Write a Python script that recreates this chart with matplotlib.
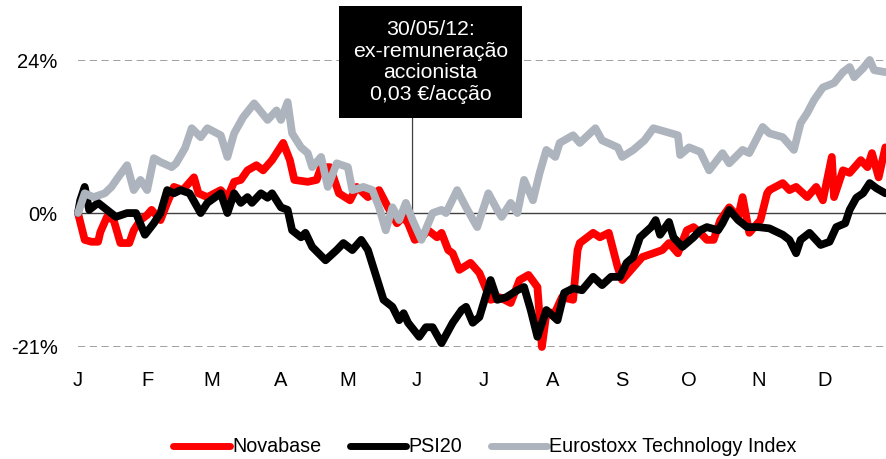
import matplotlib
matplotlib.use("Agg")
import matplotlib.pyplot as plt
from matplotlib.patches import Rectangle
from matplotlib.lines import Line2D

plt.rcParams['font.family'] = ['Liberation Sans', 'DejaVu Sans']

# ---- data (day of year 2012, % change) ----
month_labels = ["J", "F", "M", "A", "M", "J", "J", "A", "S", "O", "N", "D"]
month_starts = [0, 31, 60, 91, 121, 152, 182, 213, 244, 274, 305, 335]
y_ticks = [-21, 0, 24]
y_labels = ["-21%", "0%", "24%"]

nova_day = [0, 3, 6, 9, 10, 13, 16, 19, 23, 25, 28, 31, 33, 37, 40, 43, 47, 52, 54, 58,
            64, 67, 70, 73, 76, 80, 83, 87, 92, 95, 97, 103, 107, 109, 113, 117, 122, 125,
            130, 135, 139, 143, 146, 148, 151, 154, 157, 161, 163, 166, 168, 171, 176, 180,
            185, 189, 194, 198, 202, 206, 208, 210, 214, 217, 222, 224, 225, 231, 234, 238,
            240, 242, 244, 249, 253, 258, 262, 265, 269, 273, 276, 279, 282, 285, 288, 292,
            296, 298, 301, 306, 309, 310, 316, 319, 322, 327, 331, 334, 338, 339, 343, 346,
            351, 354, 356, 359, 362]
nova_val = [0.0, -4.2, -4.5, -4.5, -3.0, -0.6, -1.1, -4.7, -4.7, -2.7, -1.1, -0.3, 0.5, -1.1,
            1.6, 4.1, 3.6, 5.6, 3.1, 2.5, 3.6, 2.4, 4.9, 5.2, 6.7, 7.5, 6.7, 8.3, 11.0, 8.3,
            5.2, 4.9, 5.2, 7.2, 7.2, 3.1, 2.0, 4.1, 2.5, 3.6, 0.9, -1.6, -0.6, -1.6, -4.2,
            -3.8, -2.7, -3.8, -3.1, -5.8, -6.3, -8.9, -7.8, -9.4, -13.6, -13.2, -14.1, -10.5,
            -9.7, -11.6, -21.0, -15.8, -15.5, -13.2, -13.6, -5.8, -4.7, -3.1, -3.8, -3.1,
            -5.8, -8.5, -10.5, -8.5, -6.9, -6.3, -5.8, -4.7, -6.3, -2.7, -2.2, -3.1, -4.2,
            -4.2, -1.1, 0.9, -0.6, 2.5, -3.1, -1.1, 3.1, 3.6, 4.7, 3.6, 4.1, 2.5, 4.1, 2.0,
            8.8, 2.5, 6.7, 6.3, 8.3, 7.2, 9.4, 5.6, 10.3]

psi_day = [0, 1, 3, 5, 9, 13, 17, 22, 26, 30, 34, 37, 40, 43, 46, 50, 55, 58, 64, 67, 70,
           73, 76, 78, 82, 85, 87, 91, 94, 96, 100, 102, 105, 111, 116, 119, 123, 127, 130,
           137, 141, 144, 146, 148, 153, 156, 159, 163, 168, 172, 174, 177, 180, 185, 188,
           192, 197, 200, 203, 206, 210, 215, 218, 222, 226, 231, 235, 239, 243, 246, 249,
           252, 257, 259, 261, 265, 267, 271, 276, 279, 282, 287, 289, 292, 296, 300, 305,
           310, 316, 319, 322, 324, 328, 333, 337, 340, 344, 346, 349, 352, 355, 358, 362]
psi_val = [0.0, 2.0, 4.1, 0.5, 1.6, 0.5, -0.6, 0.0, 0.0, -3.4, -1.6, 0.0, 3.6, 3.1, 3.6,
           3.1, 0.0, 1.6, 3.1, 0.0, 3.1, 1.6, 2.5, 1.6, 3.1, 2.4, 3.1, 0.9, 0.5, -2.7, -3.8,
           -3.1, -5.3, -7.4, -5.8, -4.7, -5.8, -4.2, -5.8, -13.6, -14.7, -16.8, -15.7, -17.2,
           -19.4, -17.9, -17.9, -20.4, -17.2, -15.2, -14.7, -17.2, -16.3, -10.5, -13.6,
           -13.2, -12.1, -11.6, -15.2, -19.4, -15.2, -16.8, -12.5, -11.8, -12.1, -10.0,
           -11.3, -10.0, -10.0, -7.8, -6.9, -3.8, -2.2, -1.1, -3.4, -1.4, -3.8, -5.3, -3.8,
           -2.7, -2.2, -2.7, -1.6, 0.5, -1.1, -2.2, -2.2, -2.4, -3.4, -4.2, -6.3, -4.2, -3.1,
           -5.0, -4.5, -2.2, -1.6, 0.5, 2.4, 3.1, 4.7, 3.9, 3.1]

euro_day = [0, 3, 7, 12, 15, 18, 22, 25, 28, 31, 34, 37, 42, 44, 48, 51, 55, 58, 64, 67,
            70, 74, 79, 85, 89, 91, 94, 96, 100, 103, 105, 109, 112, 116, 121, 123, 128,
            132, 135, 138, 141, 144, 147, 150, 154, 159, 163, 165, 170, 174, 179, 184, 188,
            190, 194, 197, 200, 204, 207, 210, 214, 216, 222, 225, 232, 235, 242, 244, 249,
            254, 258, 264, 269, 270, 274, 279, 283, 289, 292, 298, 301, 307, 310, 316, 321,
            324, 327, 330, 334, 339, 343, 346, 348, 352, 355, 357, 362]
euro_val = [0.0, 3.1, 2.5, 3.1, 4.1, 5.6, 7.5, 3.6, 5.2, 3.6, 8.6, 8.0, 7.2, 7.8, 10.2,
            13.3, 11.9, 13.3, 12.2, 8.8, 12.5, 15.0, 17.2, 14.6, 16.1, 14.6, 17.4, 12.5,
            10.3, 9.4, 7.2, 8.8, 4.1, 7.8, 7.2, 3.6, 4.1, 3.6, 0.9, -2.7, 0.9, -1.1, 1.6,
            -1.1, -4.2, 0.0, 0.5, 0.0, 3.6, 0.9, -2.2, 3.1, 0.5, -0.6, 1.6, 0.0, 5.2, 2.0,
            6.3, 9.9, 8.8, 11.0, 12.2, 11.0, 13.3, 11.4, 10.3, 8.8, 9.9, 11.4, 13.3, 12.7,
            12.2, 9.1, 10.3, 9.6, 6.7, 9.4, 7.8, 9.9, 9.4, 13.5, 12.5, 11.9, 9.9, 14.1,
            15.7, 17.7, 19.7, 20.4, 22.1, 22.9, 21.3, 22.7, 24.0, 22.4, 22.1]

series_names = ["Novabase", "PSI20", "Eurostoxx Technology Index"]
series_colors = ["#FF0000", "#000000", "#ADB4BD"]
event_day = 150
event_text = "30/05/12:\nex-remuneração\naccionista\n0,03 €/acção"

# ---- figure ----
W, H = 886, 459
fig = plt.figure(figsize=(W / 100, H / 100), dpi=100)
ax = fig.add_axes([78 / W, 1 - 347 / H, 808 / W, 287 / H])
ax.set_xlim(0, 362.3)
ax.set_ylim(-21, 24)

for s in ax.spines.values():
    s.set_visible(False)

ax.axhline(0, color="#404040", lw=1.0, zorder=1)
for yv in (24, -21):
    ax.axhline(yv, color="#999999", lw=1.3, ls=(0, (4, 2.5)), zorder=1)

data = [(nova_day, nova_val), (psi_day, psi_val), (euro_day, euro_val)]
for (d, v), name, c in zip(data, series_names, series_colors):
    ax.plot(d, v, color=c, lw=5.6, solid_joinstyle="round", solid_capstyle="round",
            clip_on=False, label=name, zorder=3)

ax.set_xticks(month_starts)
ax.set_xticklabels(month_labels)
ax.set_yticks(y_ticks)
ax.set_yticklabels(y_labels)
ax.tick_params(axis="x", length=0, pad=17, labelsize=14.5)
ax.tick_params(axis="y", length=0, pad=14.5, labelsize=14.5)

# annotation box and line
box_x0, box_y0, box_x1, box_y1 = 339, 6, 522, 118
fig.add_artist(Rectangle((box_x0 / W, 1 - box_y1 / H), (box_x1 - box_x0) / W,
                         (box_y1 - box_y0) / H, transform=fig.transFigure,
                         facecolor="black", edgecolor="none", zorder=5))
fig.text((box_x0 + box_x1) / 2 / W, 1 - (box_y0 + box_y1) / 2 / H, event_text,
         color="white", ha="center", va="center", fontsize=15.3, linespacing=1.17,
         zorder=6)
ax.annotate("", xy=(event_day, 0), xycoords="data",
            xytext=(event_day, 1 - box_y1 / H), textcoords=("data", "figure fraction"),
            arrowprops=dict(arrowstyle="-", color="#404040", lw=0.9,
                            shrinkA=0, shrinkB=0), zorder=2)

handles = [Line2D([], [], color=c, lw=5, solid_capstyle="round") for c in series_colors]
leg = fig.legend(handles, series_names, loc="center", bbox_to_anchor=(485 / W, 1 - 447 / H),
                 ncol=3, frameon=False, handlelength=2.85, handletextpad=0.12,
                 columnspacing=1.45, prop={"family": ["Liberation Sans"], "size": 14.2})

fig.savefig("out.png", dpi=100)
